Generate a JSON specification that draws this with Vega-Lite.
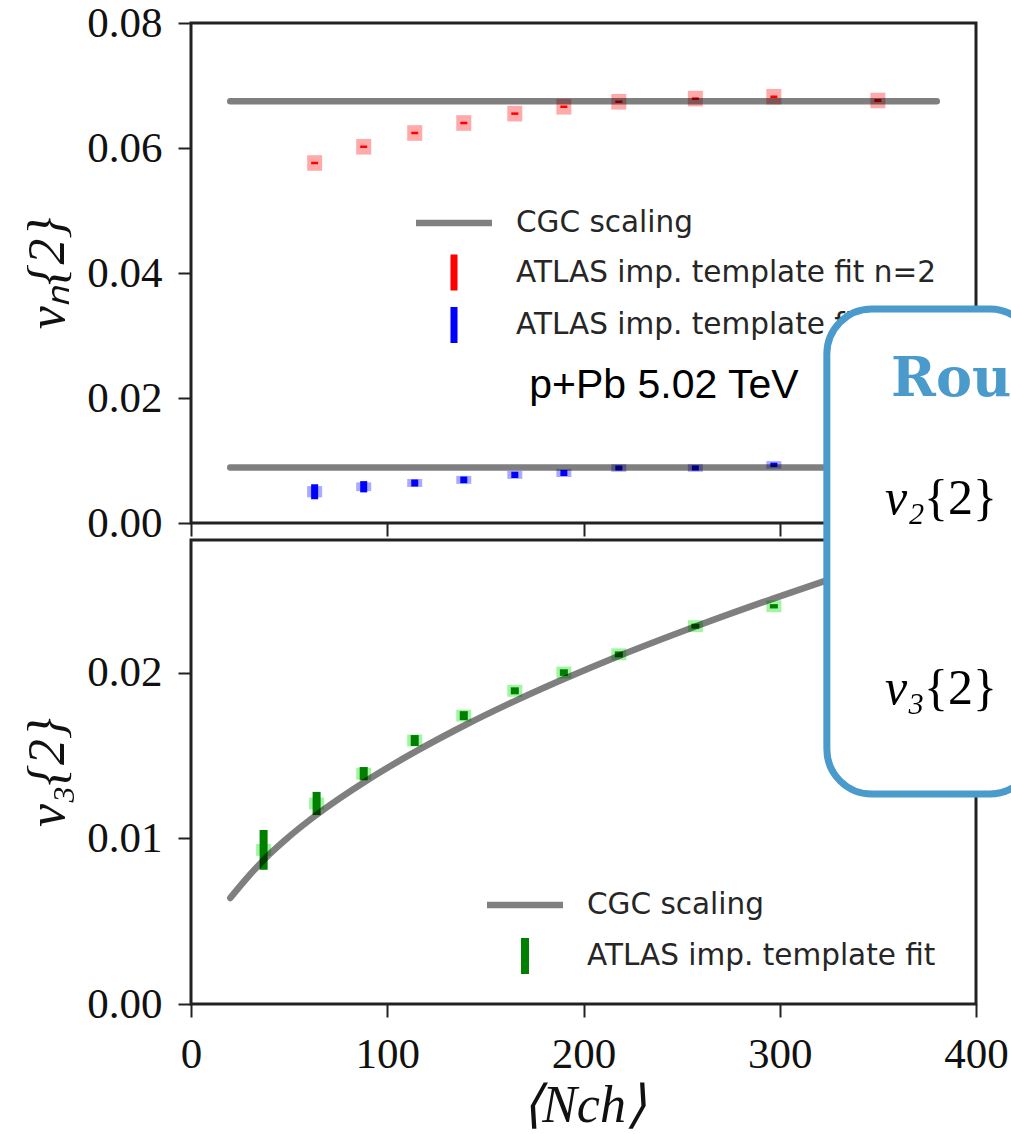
{
  "$schema": "https://vega.github.io/schema/vega-lite/v6.json",
  "background": "white",
  "padding": {"left": 20, "top": 0, "right": 0, "bottom": 0},
  "bounds": "flush",
  "spacing": 17,
  "datasets": {
    "top": [
      {"series": "ATLAS imp. template fit n=2", "Nch": 63, "v": 0.0576, "stat": 0.0002, "sys": 0.00125},
      {"series": "ATLAS imp. template fit n=2", "Nch": 88, "v": 0.0602, "stat": 0.0002, "sys": 0.00125},
      {"series": "ATLAS imp. template fit n=2", "Nch": 114, "v": 0.0624, "stat": 0.0002, "sys": 0.00125},
      {"series": "ATLAS imp. template fit n=2", "Nch": 139, "v": 0.064, "stat": 0.0002, "sys": 0.00125},
      {"series": "ATLAS imp. template fit n=2", "Nch": 165, "v": 0.0655, "stat": 0.0002, "sys": 0.00125},
      {"series": "ATLAS imp. template fit n=2", "Nch": 190, "v": 0.0666, "stat": 0.0002, "sys": 0.00125},
      {"series": "ATLAS imp. template fit n=2", "Nch": 218, "v": 0.0674, "stat": 0.0002, "sys": 0.00125},
      {"series": "ATLAS imp. template fit n=2", "Nch": 257, "v": 0.0679, "stat": 0.0002, "sys": 0.00125},
      {"series": "ATLAS imp. template fit n=2", "Nch": 297, "v": 0.0682, "stat": 0.0002, "sys": 0.00125},
      {"series": "ATLAS imp. template fit n=2", "Nch": 350, "v": 0.0676, "stat": 0.00025, "sys": 0.00125},
      {"series": "ATLAS imp. template fit n=3", "Nch": 63, "v": 0.005, "stat": 0.0012, "sys": 0.0009},
      {"series": "ATLAS imp. template fit n=3", "Nch": 88, "v": 0.0058, "stat": 0.0009, "sys": 0.0007},
      {"series": "ATLAS imp. template fit n=3", "Nch": 114, "v": 0.0064, "stat": 0.00056, "sys": 0.00064},
      {"series": "ATLAS imp. template fit n=3", "Nch": 139, "v": 0.0069, "stat": 0.00053, "sys": 0.00064},
      {"series": "ATLAS imp. template fit n=3", "Nch": 165, "v": 0.0077, "stat": 0.0005, "sys": 0.00064},
      {"series": "ATLAS imp. template fit n=3", "Nch": 190, "v": 0.008, "stat": 0.00048, "sys": 0.00064},
      {"series": "ATLAS imp. template fit n=3", "Nch": 218, "v": 0.0088, "stat": 0.0004, "sys": 0.0006},
      {"series": "ATLAS imp. template fit n=3", "Nch": 257, "v": 0.0088, "stat": 0.0004, "sys": 0.0006},
      {"series": "ATLAS imp. template fit n=3", "Nch": 297, "v": 0.0093, "stat": 0.00035, "sys": 0.0006}
    ],
    "cgc_top": [
      {"harmonic": "v2", "Nch": 20, "v": 0.0675},
      {"harmonic": "v2", "Nch": 380, "v": 0.0675},
      {"harmonic": "v3", "Nch": 20, "v": 0.0089},
      {"harmonic": "v3", "Nch": 380, "v": 0.0089}
    ],
    "bottom": [
      {"series": "ATLAS imp. template fit", "Nch": 37, "v": 0.0093, "stat": 0.0012, "sys": 0.00036},
      {"series": "ATLAS imp. template fit", "Nch": 64, "v": 0.0121, "stat": 0.0007, "sys": 0.00036},
      {"series": "ATLAS imp. template fit", "Nch": 88, "v": 0.0139, "stat": 0.0004, "sys": 0.00036},
      {"series": "ATLAS imp. template fit", "Nch": 114, "v": 0.0159, "stat": 0.00033, "sys": 0.00036},
      {"series": "ATLAS imp. template fit", "Nch": 139, "v": 0.0174, "stat": 0.00027, "sys": 0.00036},
      {"series": "ATLAS imp. template fit", "Nch": 165, "v": 0.0189, "stat": 0.00021, "sys": 0.00036},
      {"series": "ATLAS imp. template fit", "Nch": 190, "v": 0.02, "stat": 0.0002, "sys": 0.00036},
      {"series": "ATLAS imp. template fit", "Nch": 218, "v": 0.0211, "stat": 0.00018, "sys": 0.00036},
      {"series": "ATLAS imp. template fit", "Nch": 257, "v": 0.0228, "stat": 0.00015, "sys": 0.00036},
      {"series": "ATLAS imp. template fit", "Nch": 297, "v": 0.024, "stat": 0.00013, "sys": 0.00036}
    ],
    "cgc_bottom": [
      {"Nch": 20, "v": 0.0064},
      {"Nch": 30, "v": 0.0078},
      {"Nch": 40, "v": 0.00904},
      {"Nch": 48, "v": 0.0099},
      {"Nch": 64, "v": 0.01142},
      {"Nch": 90, "v": 0.01352},
      {"Nch": 115, "v": 0.01527},
      {"Nch": 140, "v": 0.01685},
      {"Nch": 166, "v": 0.01834},
      {"Nch": 190, "v": 0.01961},
      {"Nch": 218, "v": 0.021},
      {"Nch": 257, "v": 0.02278},
      {"Nch": 297, "v": 0.02448},
      {"Nch": 322, "v": 0.02549},
      {"Nch": 350, "v": 0.02656},
      {"Nch": 380, "v": 0.02767}
    ]
  },
  "config": {
    "view": {"stroke": "#222222", "strokeWidth": 3},
    "axis": {
      "domain": false, "grid": false,
      "tickColor": "#222222", "tickWidth": 2, "tickSize": 13,
      "labelFont": "Liberation Serif", "labelFontSize": 43, "labelColor": "#111111",
      "labelPadding": 16, "labelOverlap": false, "labelFlush": false,
      "titleFont": "Liberation Serif", "titleFontStyle": "italic", "titleFontWeight": "normal",
      "titleFontSize": 52, "titleColor": "#111111"
    },
    "legend": {
      "orient": "none", "title": null, "padding": 0,
      "labelFont": "DejaVu Sans", "labelFontSize": 29.5, "labelColor": "#262626", "labelLimit": 0,
      "labelOffset": 46, "symbolSize": 1024, "symbolOpacity": 1, "symbolStrokeWidth": 0
    }
  },
  "resolve": {"scale": {"color": "independent", "shape": "independent", "x": "independent", "y": "independent"}},
  "vconcat": [
    {
      "width": 785,
      "height": 500,
      "layer": [
        {
          "encoding": {
            "x": {"field": "Nch", "type": "quantitative", "scale": {"domain": [0, 400], "nice": false},
                  "axis": {"values": [0, 100, 200, 300, 400], "labels": false}, "title": null},
            "y": {"field": "v", "type": "quantitative", "scale": {"domain": [0, 0.08], "nice": false},
                  "axis": {"values": [0, 0.02, 0.04, 0.06, 0.08], "format": ".2f", "titlePadding": 12}, "title": "vₙ{2}"}
          },
          "layer": [
            {
              "data": {"name": "top"},
              "transform": [{"filter": "datum.series === 'ATLAS imp. template fit n=2'"}],
              "mark": {"type": "errorbar", "thickness": 15, "color": "#ffaaaa"},
              "encoding": {"yError": {"field": "sys"}}
            },
            {
              "data": {"name": "top"},
              "transform": [{"filter": "datum.series === 'ATLAS imp. template fit n=3'"}],
              "mark": {"type": "errorbar", "thickness": 15, "color": "#aaaaff"},
              "encoding": {"yError": {"field": "sys"}}
            },
            {
              "data": {"name": "top"},
              "transform": [{"filter": "datum.series === 'ATLAS imp. template fit n=2'"}],
              "mark": {"type": "errorbar", "thickness": 7, "color": "#ff0000"},
              "encoding": {"yError": {"field": "stat"}}
            },
            {
              "data": {"name": "top"},
              "transform": [{"filter": "datum.series === 'ATLAS imp. template fit n=3'"}],
              "mark": {"type": "errorbar", "thickness": 7, "color": "#0000ff"},
              "encoding": {"yError": {"field": "stat"}}
            },
            {
              "data": {"name": "top"},
              "mark": {"type": "point", "filled": true, "opacity": 0},
              "encoding": {
                "color": {
                  "field": "series", "type": "nominal",
                  "scale": {"domain": ["CGC scaling", "ATLAS imp. template fit n=2", "ATLAS imp. template fit n=3"],
                            "range": ["#808080", "#ff0000", "#0000ff"]},
                  "legend": {"legendX": 247, "legendY": 184, "rowPadding": 16.5, "symbolOpacity": 1}
                },
                "shape": {
                  "field": "series", "type": "nominal",
                  "scale": {"domain": ["CGC scaling", "ATLAS imp. template fit n=2", "ATLAS imp. template fit n=3"],
                            "range": ["M-2.375,-0.2L2.375,-0.2L2.375,0.2L-2.375,0.2Z", "M-0.22,-1.125L0.22,-1.125L0.22,1.125L-0.22,1.125Z", "M-0.22,-1.125L0.22,-1.125L0.22,1.125L-0.22,1.125Z"]},
                  "legend": {"legendX": 247, "legendY": 184, "rowPadding": 16.5, "symbolOpacity": 1}
                }
              }
            },
            {
              "data": {"name": "cgc_top"},
              "mark": {"type": "line", "color": "black", "opacity": 0.5, "strokeWidth": 6.5, "strokeCap": "round"},
              "encoding": {"detail": {"field": "harmonic"}}
            }
          ]
        },
        {
          "data": {"values": [{"label": "p+Pb 5.02 TeV"}]},
          "mark": {"type": "text", "font": "Liberation Sans", "fontSize": 41, "align": "center", "baseline": "middle", "color": "black"},
          "encoding": {
            "x": {"datum": 241, "type": "quantitative"},
            "y": {"datum": 0.0219, "type": "quantitative"},
            "text": {"field": "label"}
          }
        }
      ]
    },
    {
      "width": 785,
      "height": 464,
      "layer": [
        {
          "encoding": {
            "x": {"field": "Nch", "type": "quantitative", "scale": {"domain": [0, 400], "nice": false},
                  "axis": {"values": [0, 100, 200, 300, 400], "titlePadding": 4}, "title": "⟨Nch⟩"},
            "y": {"field": "v", "type": "quantitative", "scale": {"domain": [0, 0.028], "nice": false},
                  "axis": {"values": [0, 0.01, 0.02], "format": ".2f", "titlePadding": 12}, "title": "v₃{2}"}
          },
          "layer": [
            {
              "data": {"name": "bottom"},
              "mark": {"type": "errorbar", "thickness": 15, "color": "#a0f5a0"},
              "encoding": {"yError": {"field": "sys"}}
            },
            {
              "data": {"name": "bottom"},
              "mark": {"type": "errorbar", "thickness": 8, "color": "#007f00"},
              "encoding": {"yError": {"field": "stat"}}
            },
            {
              "data": {"name": "bottom"},
              "mark": {"type": "point", "filled": true, "opacity": 0},
              "encoding": {
                "color": {
                  "field": "series", "type": "nominal",
                  "scale": {"domain": ["CGC scaling", "ATLAS imp. template fit"], "range": ["#808080", "#007f00"]},
                  "legend": {"legendX": 318, "legendY": 349, "rowPadding": 18, "symbolOpacity": 1}
                },
                "shape": {
                  "field": "series", "type": "nominal",
                  "scale": {"domain": ["CGC scaling", "ATLAS imp. template fit"],
                            "range": ["M-2.375,-0.2L2.375,-0.2L2.375,0.2L-2.375,0.2Z", "M-0.25,-1.125L0.25,-1.125L0.25,1.125L-0.25,1.125Z"]},
                  "legend": {"legendX": 318, "legendY": 349, "rowPadding": 18, "symbolOpacity": 1}
                }
              }
            },
            {
              "data": {"name": "cgc_bottom"},
              "mark": {"type": "line", "color": "black", "opacity": 0.5, "strokeWidth": 6.5, "strokeCap": "round", "interpolate": "monotone"},
              "encoding": {}
            }
          ]
        },
        {
          "data": {"values": [{"box": "overlay"}]},
          "mark": {"type": "rect", "fill": "white", "stroke": "#4a9acb", "strokeWidth": 7, "cornerRadius": 45, "clip": false},
          "encoding": {
            "x": {"datum": 324, "type": "quantitative"},
            "x2": {"datum": 430},
            "y": {"datum": 0.04194, "type": "quantitative"},
            "y2": {"datum": 0.01267}
          }
        },
        {
          "data": {"values": [{"label": "Rou"}]},
          "mark": {"type": "text", "font": "DejaVu Serif", "fontWeight": "bold", "fontSize": 54, "align": "left", "baseline": "alphabetic", "color": "#4a9acb"},
          "encoding": {
            "x": {"datum": 356.7, "type": "quantitative"},
            "y": {"datum": 0.03669, "type": "quantitative"},
            "text": {"field": "label"}
          }
        },
        {
          "data": {"values": [{"label": "v₂"}]},
          "mark": {"type": "text", "font": "Liberation Serif", "fontStyle": "italic", "fontSize": 50, "align": "left", "baseline": "alphabetic", "color": "black"},
          "encoding": {
            "x": {"datum": 353.6, "type": "quantitative"},
            "y": {"datum": 0.02957, "type": "quantitative"},
            "text": {"field": "label"}
          }
        },
        {
          "data": {"values": [{"label": "{2}"}]},
          "mark": {"type": "text", "font": "Liberation Serif", "fontSize": 50, "align": "left", "baseline": "alphabetic", "color": "black"},
          "encoding": {
            "x": {"datum": 373.5, "type": "quantitative"},
            "y": {"datum": 0.02957, "type": "quantitative"},
            "text": {"field": "label"}
          }
        },
        {
          "data": {"values": [{"label": "v₃"}]},
          "mark": {"type": "text", "font": "Liberation Serif", "fontStyle": "italic", "fontSize": 50, "align": "left", "baseline": "alphabetic", "color": "black"},
          "encoding": {
            "x": {"datum": 353.6, "type": "quantitative"},
            "y": {"datum": 0.0181, "type": "quantitative"},
            "text": {"field": "label"}
          }
        },
        {
          "data": {"values": [{"label": "{2}"}]},
          "mark": {"type": "text", "font": "Liberation Serif", "fontSize": 50, "align": "left", "baseline": "alphabetic", "color": "black"},
          "encoding": {
            "x": {"datum": 373.5, "type": "quantitative"},
            "y": {"datum": 0.0181, "type": "quantitative"},
            "text": {"field": "label"}
          }
        }
      ]
    }
  ]
}
